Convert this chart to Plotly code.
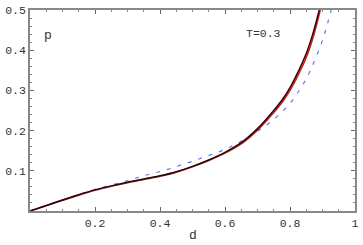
import plotly.graph_objects as go

d_black = [0, 0.05, 0.1, 0.15, 0.2, 0.25, 0.3, 0.35, 0.4, 0.45, 0.5, 0.55, 0.6, 0.65, 0.7, 0.75, 0.78, 0.8, 0.82, 0.85, 0.87, 0.89]
p_black = [0, 0.0135, 0.0275, 0.0405, 0.0525, 0.0625, 0.0715, 0.0795, 0.0875, 0.0975, 0.111, 0.127, 0.146, 0.17, 0.205, 0.25, 0.281, 0.307, 0.338, 0.392, 0.44, 0.5]

d_red = [0, 0.05, 0.1, 0.15, 0.2, 0.25, 0.3, 0.35, 0.4, 0.45, 0.5, 0.55, 0.6, 0.65, 0.7, 0.75, 0.78, 0.8, 0.82, 0.85, 0.87, 0.89, 0.893]
p_red = [0, 0.013, 0.0265, 0.0395, 0.0515, 0.0615, 0.0705, 0.0785, 0.0865, 0.0965, 0.11, 0.1255, 0.144, 0.167, 0.201, 0.245, 0.275, 0.3, 0.33, 0.382, 0.429, 0.49, 0.5]

d_blue = [0, 0.1, 0.2, 0.309, 0.3465, 0.385, 0.4255, 0.463, 0.5015, 0.539, 0.5775, 0.613, 0.648, 0.684, 0.717, 0.75, 0.78, 0.8, 0.82, 0.84, 0.86, 0.88, 0.9, 0.915, 0.93]
p_blue = [0, 0.0275, 0.054, 0.0774, 0.087, 0.095, 0.104, 0.114, 0.124, 0.135, 0.146, 0.158, 0.173, 0.19, 0.2076, 0.228, 0.25, 0.268, 0.29, 0.315, 0.345, 0.383, 0.425, 0.465, 0.51]

x_ticks = [0.2, 0.4, 0.6, 0.8, 1]
x_labels = ["0.2", "0.4", "0.6", "0.8", "1"]
y_ticks = [0.1, 0.2, 0.3, 0.4, 0.5]
y_labels = ["0.1", "0.2", "0.3", "0.4", "0.5"]

FONT = "Liberation Mono, Courier New, DejaVu Sans Mono, monospace"

fig = go.Figure()
fig.add_trace(go.Scatter(x=d_blue, y=p_blue, mode="lines", line_shape="spline",
                         line=dict(color="#5f78f0", width=1.2, dash="4px,7px")))
fig.add_trace(go.Scatter(x=d_red, y=p_red, mode="lines", line_shape="spline",
                         line=dict(color="#ee1111", width=1.6)))
fig.add_trace(go.Scatter(x=d_black, y=p_black, mode="lines", line_shape="spline",
                         line=dict(color="#111111", width=1.5)))

axis_common = dict(showgrid=False, zeroline=False, showline=True, linecolor="#888888",
                   linewidth=1.5, mirror="ticks", ticks="inside", ticklen=4,
                   tickcolor="#666666", tickwidth=1, ticklabeloverflow="allow",
                   tickfont=dict(family=FONT, size=11.5, color="#333333"))

fig.update_xaxes(range=[0, 1], tickvals=x_ticks, ticktext=x_labels,
                 minor=dict(dtick=0.05, ticks="inside", ticklen=2, tickcolor="#888888"),
                 **axis_common)
fig.update_yaxes(range=[0, 0.5], tickvals=y_ticks, ticktext=y_labels,
                 minor=dict(dtick=0.02, ticks="inside", ticklen=2, tickcolor="#888888"),
                 **axis_common)

fig.update_layout(
    width=363, height=245,
    margin=dict(l=30, r=4, t=7, b=34),
    paper_bgcolor="white", plot_bgcolor="white",
    showlegend=False,
    annotations=[
        dict(x=0.055, y=0.875, xref="paper", yref="paper", text="p", showarrow=False,
             xanchor="center", yanchor="middle",
             font=dict(family=FONT, size=13, color="#333333")),
        dict(x=0.717, y=0.885, xref="paper", yref="paper", text="T=0.3", showarrow=False,
             xanchor="center", yanchor="middle",
             font=dict(family=FONT, size=11.5, color="#333333")),
        dict(x=0.5, y=-0.12, xref="paper", yref="paper", text="d", showarrow=False,
             xanchor="center", yanchor="middle",
             font=dict(family=FONT, size=13, color="#333333")),
    ],
)

fig.write_html("out.html", config={"displayModeBar": False},
               post_script="document.body.style.margin='0';document.body.style.padding='0';")
